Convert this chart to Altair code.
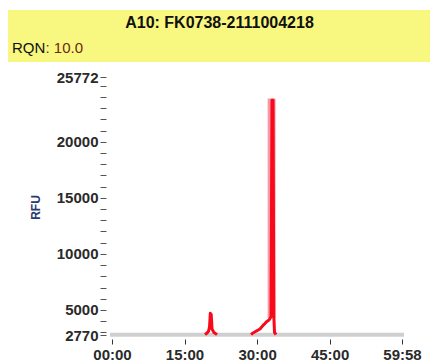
import altair as alt
import pandas as pd

# ---- text ----
title_text = "A10: FK0738-2111004218"
rqn_label = "RQN"
rqn_value = ": 10.0"

# ---- axes ----
x_ticks = [0, 900, 1800, 2700, 3598]
x_tick_labels = ["00:00", "15:00", "30:00", "45:00", "59:58"]
y_major = [2770, 5000, 10000, 15000, 20000, 25772]
y_minor = [3000, 4000, 6000, 7000, 8000, 9000, 11000, 12000, 13000, 14000,
           16000, 17000, 18000, 19000, 21000, 22000, 23000, 24000, 25000]

# ---- trace data (time in seconds, RFU) ----
base_t = [0, 3598]
base_v = [2790, 2790]

peak1_t = [1154, 1179, 1197, 1210, 1220, 1231, 1241, 1265, 1303]
peak1_v = [2800, 2950, 3100, 3500, 4700, 4600, 3300, 3000, 2800]

peak2_t = [1725, 1749, 1787, 1836, 1877, 1898, 1917, 1948, 1973, 1985, 1998, 2008, 2016, 2035]
peak2_v = [2800, 2950, 3100, 3300, 3650, 3800, 3950, 4100, 4400, 23700, 23700, 4500, 3000, 2800]

band_t0, band_t1 = [1931], [2029]
band_v0, band_v1 = [4300], [23850]

FONT = "Liberation Sans"

xdom = [0, 3598]
ydom = [2770, 25772]

x_label_expr = " : ".join(
    f"datum.value == {v} ? '{l}'" for v, l in zip(x_ticks, x_tick_labels)
) + " : ''"
y_label_expr = "indexof([" + ",".join(str(v) for v in y_major) + "], datum.value) >= 0 ? datum.label : ''"

x_axis = alt.Axis(values=x_ticks, labelExpr=x_label_expr, domain=False, grid=False,
                  tickSize=5, tickColor="#333333", offset=4, labelFont=FONT,
                  labelFontSize=15, labelFontWeight="bold", labelColor="#2a2a2a",
                  labelFlush=False, labelPadding=3, title=None)
y_axis = alt.Axis(values=sorted(y_major + y_minor), labelExpr=y_label_expr, format="d",
                  domain=False, grid=False, tickSize=6, tickColor="#555555", offset=6,
                  labelFont=FONT, labelFontSize=15, labelFontWeight="bold",
                  labelColor="#2a2a2a", labelPadding=2, labelOverlap=False,
                  labelFlush=False, title="RFU", titleFont=FONT, titleFontSize=12,
                  titleFontWeight="bold", titleColor="#2c3b6e", titleAngle=-90,
                  titleX=-71, titleY=130, titleAlign="center", titleBaseline="middle")

def X(field):
    return alt.X(field, type="quantitative", scale=alt.Scale(domain=xdom, nice=False, zero=False), axis=x_axis)

def Y(field):
    return alt.Y(field, type="quantitative", scale=alt.Scale(domain=ydom, nice=False, zero=False), axis=y_axis)

one = pd.DataFrame({"k": [0]})

banner = alt.Chart(one).mark_rect(color="#f8f780").encode(
    x=alt.value(-104), x2=alt.value(318), y=alt.value(-67), y2=alt.value(-15))

title = alt.Chart(pd.DataFrame({"s": [title_text]})).mark_text(
    font=FONT, fontSize=16, fontWeight="bold", color="#111111", align="center", baseline="middle"
).encode(x=alt.value(107.5), y=alt.value(-54), text="s:N")

rqn1 = alt.Chart(pd.DataFrame({"s": [rqn_label]})).mark_text(
    font=FONT, fontSize=15, color="#111111", align="left", baseline="middle"
).encode(x=alt.value(-100), y=alt.value(-29), text="s:N")

rqn2 = alt.Chart(pd.DataFrame({"s": [rqn_value]})).mark_text(
    font=FONT, fontSize=15, color="#6b2a12", align="left", baseline="middle"
).encode(x=alt.value(-66.5), y=alt.value(-29), text="s:N")

base_df = pd.DataFrame({"t": base_t, "v": base_v})
baseline = alt.Chart(base_df).mark_line(color="#cfcfcf", strokeWidth=4, strokeCap="square").encode(
    x=X("t"), y=Y("v"))

band_df = pd.DataFrame({"t0": band_t0, "t1": band_t1, "v0": band_v0, "v1": band_v1})
band = alt.Chart(band_df).mark_rect(color="#f48a98", opacity=0.85).encode(
    x=X("t0"), x2="t1", y=Y("v0"), y2="v1")

trace_df = pd.concat([
    pd.DataFrame({"t": peak1_t, "v": peak1_v, "seg": "a"}),
    pd.DataFrame({"t": peak2_t, "v": peak2_v, "seg": "b"}),
])
trace = alt.Chart(trace_df).mark_line(color="#f80a1a", strokeWidth=3, strokeJoin="round").encode(
    x=X("t"), y=Y("v"), detail="seg:N", order="t:Q")

chart = alt.layer(banner, title, rqn1, rqn2, baseline, band, trace).properties(
    width=290, height=258,
    autosize=alt.AutoSizeParams(type="none"),
    padding={"left": 112, "top": 77, "right": 32, "bottom": 29},
    background="white",
).configure_view(stroke=None)

chart.save("out.html", embed_options={"renderer": "svg", "actions": False})
